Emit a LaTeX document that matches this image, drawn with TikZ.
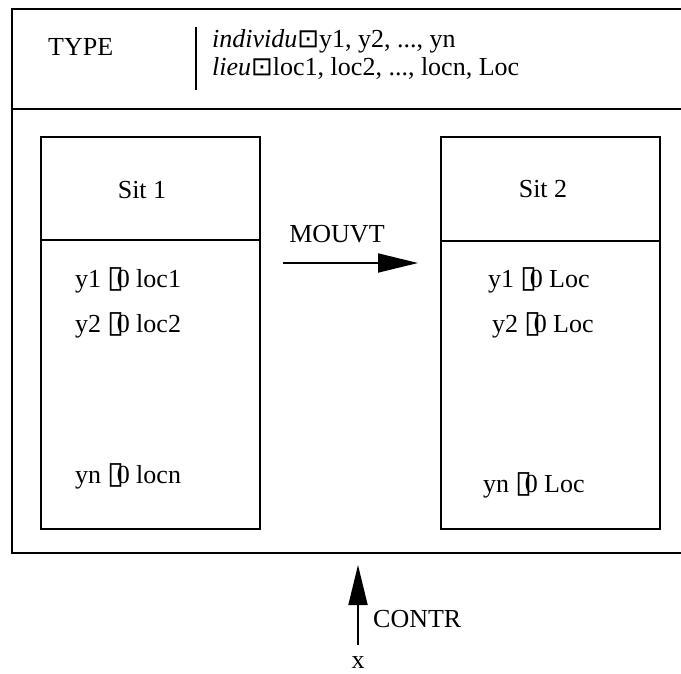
\documentclass[tikz,border=0pt]{standalone}
\usepackage{fontspec}
\setmainfont{Liberation Serif}
\newfontfamily\symfont{DejaVu Sans}
\usetikzlibrary{arrows.meta,positioning}
\newcommand{\membox}{{\symfont\fontsize{31}{34}\selectfont ▯}\kern-8pt}
\newcommand{\dotsq}{{\symfont ⊡}}
\tikzset{frame/.style={line width=2.7pt},
  txt/.style={anchor=base west,inner sep=0pt},
  lbl/.style={anchor=base,inner sep=0pt},
  arr/.style={line width=1.8pt,-{Triangle[length=40pt,width=19pt]}}}
\begin{document}
\begin{tikzpicture}[x=1pt,y=-1pt,font=\fontsize{26}{31}\selectfont]
\useasboundingbox (0,0) rectangle (681,673);
% outer frame
\draw[frame] (681,9) -- (12,9) -- (12,553) -- (681,553);
\draw[frame] (12,109) -- (681,109);
% type
\node[txt] (type) at (48,55) {TYPE};
\draw[line width=2.4pt] (196,27) -- (196,90);
\node[txt] (indiv) at (212,47) {\textit{individu}\dotsq y1, y2, ..., yn};
\node[txt] (lieu) at (212,75) {\textit{lieu}\dotsq loc1, loc2, ..., locn, Loc};
%%%%
\draw[frame] (41,137) rectangle (260,529);
\draw[frame] (41,240) -- (260,240);
\draw[frame] (441,137) rectangle (660,529);
\draw[frame] (441,241) -- (660,241);
\node[lbl] (sit1) at (142,198) {Sit 1};
\node[lbl] (sit2) at (543,197) {Sit 2};
\node[txt] (a1) at (75,287) {y1 \membox 0 loc1};
\node[txt] (a2) at (75,332) {y2 \membox 0 loc2};
\node[txt] (an) at (75,483) {yn \membox 0 locn};
\node[txt] (b1) at (488,287) {y1 \membox 0 Loc};
\node[txt] (b2) at (492,332) {y2 \membox 0 Loc};
\node[txt] (bn) at (483,492) {yn \membox 0 Loc};
%%%%
\node[lbl] (mouvt) at (337,242) {MOUVT};
\coordinate (m0) at (283,263);
\coordinate (m1) at (418,263);
\draw[arr] (m0) -- (m1);
\coordinate (c0) at (358,645);
\coordinate (c1) at (358,565);
\draw[arr] (c0) -- (c1);
\node[txt] (contr) at (373,627) {CONTR};
\node[lbl] (xvar) at (358,668) {x};
\end{tikzpicture}
\end{document}
